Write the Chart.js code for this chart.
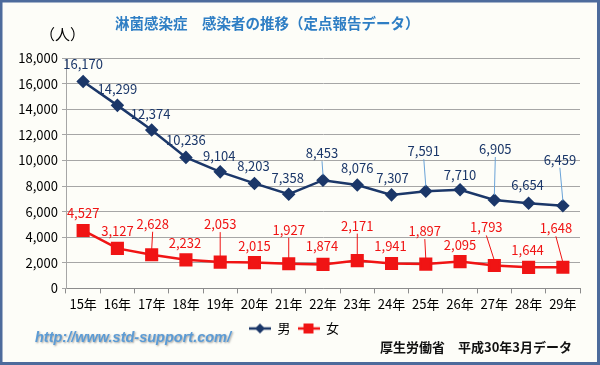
<!DOCTYPE html>
<html lang="ja">
<head>
<meta charset="utf-8">
<title>淋菌感染症 感染者の推移</title>
<script src="https://cdn.jsdelivr.net/npm/chart.js@4/dist/chart.umd.min.js"></script>
<style>
  html, body { margin: 0; padding: 0; background: #fff; }
  #wrap { width: 600px; height: 365px; }
</style>
</head>
<body>
<div id="wrap"><canvas id="stdChart" width="600" height="365"></canvas></div>
<script>
const years = ["15年", "16年", "17年", "18年", "19年", "20年", "21年", "22年", "23年", "24年", "25年", "26年", "27年", "28年", "29年"];
const male = [16170, 14299, 12374, 10236, 9104, 8203, 7358, 8453, 8076, 7307, 7591, 7710, 6905, 6654, 6459];
const female = [4527, 3127, 2628, 2232, 2053, 2015, 1927, 1874, 2171, 1941, 1897, 2095, 1793, 1644, 1648];
const yTicks = [0, 2000, 4000, 6000, 8000, 10000, 12000, 14000, 16000, 18000];

const FONT = "'Noto Sans CJK JP', 'Noto Sans', sans-serif";
const NAVY = "#1b3769";
const RED = "#f01414";

// label offsets [dx, dy] from each point, per dataset
const labelOffsets = [
  [[0,-17],[0,-16],[-1,-16],[0,-17],[-1,-16],[-1,-17],[-1,-16],[-1,-27],[0,-17],[1,-17],[-2,-40],[0,-15],[1,-51],[-1,-18],[-3,-46]],
  [[0,-17],[0,-17],[1,-31],[-1,-17],[0,-38],[0,-17],[0,-34],[-1,-18],[0,-35],[-1,-17],[-1,-33],[0,-17],[-8,-38],[-1,-17],[-7,-39]]
];

// legend icon: short line with marker
function legendIcon(color, shape) {
  const c = document.createElement("canvas");
  c.width = 22; c.height = 12;
  const g = c.getContext("2d");
  g.strokeStyle = color; g.lineWidth = 2.5;
  g.beginPath(); g.moveTo(0, 6); g.lineTo(22, 6); g.stroke();
  g.fillStyle = color;
  if (shape === "diamond") {
    g.beginPath(); g.moveTo(11, 1); g.lineTo(16, 6); g.lineTo(11, 11); g.lineTo(6, 6); g.closePath(); g.fill();
  } else {
    g.fillRect(6, 1, 10, 10);
  }
  return c;
}

const frame = {
  id: "frame",
  beforeDraw(chart) {
    const ctx = chart.ctx;
    ctx.save();
    ctx.fillStyle = "#fdfdf8";
    ctx.fillRect(0, 0, chart.width, chart.height);
    ctx.strokeStyle = "#4d6b9c";
    ctx.lineWidth = 3;
    ctx.strokeRect(1, 1, chart.width - 2.5, chart.height - 2.5);
    ctx.restore();
  },
  afterDraw(chart) {
    const ctx = chart.ctx;
    ctx.save();
    ctx.textBaseline = "middle";
    ctx.fillStyle = "#2e7ec4";
    ctx.font = "bold 14.5px " + FONT;
    ctx.textAlign = "left";
    ctx.fillText("淋菌感染症\u3000感染者の推移（定点報告データ）", 115, 23);
    ctx.fillStyle = "#000";
    ctx.font = "15px " + FONT;
    ctx.fillText("（人）", 40, 34);

    ctx.font = "bold 13px " + FONT;
    ctx.fillStyle = "#111";
    ctx.fillText("厚生労働省\u3000平成30年3月データ", 380, 347);

    ctx.font = "italic bold 14.5px 'Liberation Sans', Arial, sans-serif";
    ctx.shadowColor = "rgba(90,90,90,0.55)";
    ctx.shadowOffsetX = 1; ctx.shadowOffsetY = 1; ctx.shadowBlur = 2;
    ctx.fillStyle = "#5b9bd5";
    ctx.fillText("http://www.std-support.com/", 35, 338);
    ctx.restore();
  }
};

const pointLabels = {
  id: "pointLabels",
  afterDatasetsDraw(chart) {
    const ctx = chart.ctx;
    ctx.save();
    ctx.font = "13px " + FONT;
    ctx.textAlign = "center";
    ctx.textBaseline = "middle";
    chart.data.datasets.forEach((ds, di) => {
      const meta = chart.getDatasetMeta(di);
      const lineColor = di === 0 ? "#6aa3d8" : RED;
      meta.data.forEach((pt, i) => {
        const [dx, dy] = labelOffsets[di][i];
        const lx = pt.x + dx, ly = pt.y + dy;
        if (dy < -22) {
          ctx.strokeStyle = lineColor;
          ctx.lineWidth = 1;
          ctx.beginPath();
          ctx.moveTo(lx, ly + 8);
          ctx.lineTo(pt.x, pt.y - 5);
          ctx.stroke();
        }
        ctx.fillStyle = di === 0 ? NAVY : RED;
        ctx.fillText(ds.data[i].toLocaleString("en-US"), lx, ly);
      });
    });
    ctx.restore();
  }
};

const ctx = document.getElementById("stdChart").getContext("2d");
new Chart(ctx, {
  type: "line",
  data: {
    labels: years,
    datasets: [
      {
        label: "男",
        data: male,
        borderColor: NAVY,
        backgroundColor: NAVY,
        borderWidth: 2.5,
        pointStyle: "rectRot",
        pointRadius: 5,
        pointHoverRadius: 5,
        tension: 0
      },
      {
        label: "女",
        data: female,
        borderColor: RED,
        backgroundColor: RED,
        borderWidth: 2.5,
        pointStyle: "rect",
        pointRadius: 7.5,
        pointHoverRadius: 7.5,
        tension: 0
      }
    ]
  },
  options: {
    responsive: false,
    animation: false,
    layout: { padding: { top: 58, left: 8, right: 20, bottom: 20 } },
    plugins: {
      title: { display: false },
      tooltip: { enabled: false },
      legend: {
        position: "bottom",
        labels: {
          usePointStyle: true,
          pointStyleWidth: 22,
          boxHeight: 12,
          padding: 7,
          color: "#000",
          font: { family: FONT, size: 13 },
          generateLabels(chart) {
            const items = Chart.defaults.plugins.legend.labels.generateLabels(chart);
            items[0].pointStyle = legendIcon(NAVY, "diamond");
            items[1].pointStyle = legendIcon(RED, "square");
            return items;
          }
        }
      }
    },
    scales: {
      x: {
        offset: true,
        grid: { display: true, offset: true, drawOnChartArea: false, drawTicks: true, tickLength: 5, color: "#8c8c8c" },
        border: { color: "#8c8c8c" },
        ticks: { color: "#000", font: { family: FONT, size: 13 }, padding: 3, maxRotation: 0, autoSkip: false }
      },
      y: {
        min: 0,
        max: 18000,
        afterBuildTicks(scale) { scale.ticks = yTicks.map(v => ({ value: v })); },
        afterFit(scale) { scale.width = 58; },
        grid: { color: "#a6a6a6", lineWidth: 1, drawTicks: true, tickLength: 4 },
        border: { display: true, color: "#a6a6a6" },
        ticks: {
          color: "#000",
          font: { family: FONT, size: 13 },
          padding: 4,
          callback: v => v.toLocaleString("en-US")
        }
      }
    }
  },
  plugins: [frame, pointLabels]
});
</script>
</body>
</html>
